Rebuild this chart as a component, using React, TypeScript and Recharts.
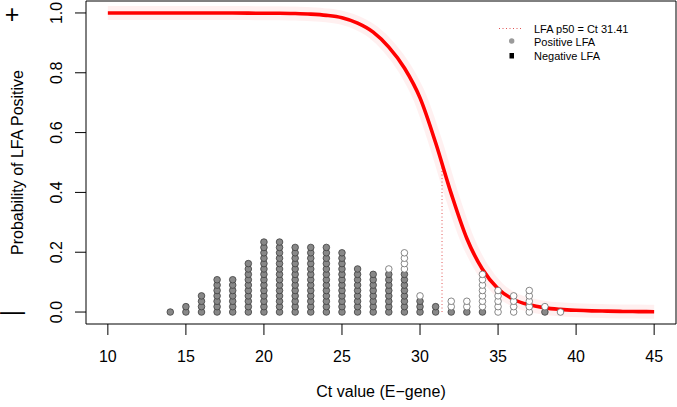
import {
  ComposedChart,
  Line,
  Scatter,
  XAxis,
  YAxis,
  ReferenceArea,
  ReferenceLine,
} from "recharts";

// Ct value of each dot column and how many results were positive / negative there
const ctValues = [14, 15, 16, 17, 18, 19, 20, 21, 22, 23, 24, 25, 26, 27, 28, 29, 30, 31, 32, 33, 34, 35, 36, 37, 38, 39];
const positiveCounts = [1, 2, 4, 7, 7, 10, 14, 14, 13, 13, 13, 12, 9, 8, 8, 8, 3, 2, 1, 1, 1, 0, 0, 0, 1, 0];
const negativeCounts = [0, 0, 0, 0, 0, 0, 0, 0, 0, 0, 0, 0, 0, 0, 1, 4, 1, 0, 2, 2, 7, 5, 4, 5, 1, 1];
const stackStep = 0.018;

// fitted probability curve
const curveCt = [10, 12, 14, 16, 18, 20, 21, 22, 23, 24, 25, 26, 27, 28, 29, 30, 31, 32, 33, 34, 35, 36, 37, 38, 39, 40, 41, 42, 43, 44, 45];
const curveP = [1.0, 1.0, 1.0, 1.0, 1.0, 0.999, 0.999, 0.998, 0.996, 0.992, 0.984, 0.966, 0.936, 0.886, 0.816, 0.716, 0.566, 0.396, 0.246, 0.143, 0.078, 0.042, 0.024, 0.014, 0.009, 0.006, 0.004, 0.003, 0.002, 0.0015, 0.001];

const p50 = 31.41;
const xTicks = [10, 15, 20, 25, 30, 35, 40, 45];
const yTicks = [0, 0.2, 0.4, 0.6, 0.8, 1.0];

const FONT = '"Liberation Sans", Arial, Helvetica, sans-serif';

const positiveDots: { x: number; y: number }[] = [];
const negativeDots: { x: number; y: number }[] = [];
ctValues.forEach((ct, i) => {
  for (let k = 0; k < positiveCounts[i]; k++) positiveDots.push({ x: ct, y: k * stackStep });
  for (let k = 0; k < negativeCounts[i]; k++)
    negativeDots.push({ x: ct, y: (positiveCounts[i] + k) * stackStep });
});

const curveData = curveCt.map((ct, i) => ({ x: ct, y: curveP[i] }));

function XTick(props: any) {
  const { x, y, payload } = props;
  return (
    <text x={x} y={y + 27} textAnchor="middle" fontSize={16} fontFamily={FONT} fill="#000">
      {payload.value}
    </text>
  );
}

function YTick(props: any) {
  const { x, y, payload } = props;
  const tx = x - 13;
  return (
    <text
      x={tx}
      y={y}
      transform={`rotate(-90, ${tx}, ${y})`}
      textAnchor="middle"
      fontSize={16}
      fontFamily={FONT}
      fill="#000"
    >
      {payload.value.toFixed(1)}
    </text>
  );
}

const filledDot = (props: any) => (
  <circle cx={props.cx} cy={props.cy} r={3.3} fill="#888888" stroke="#3f3f3f" strokeWidth={0.8} />
);

const openDot = (props: any) => (
  <circle cx={props.cx} cy={props.cy} r={3.3} fill="#ffffff" stroke="#6a6a6a" strokeWidth={0.8} />
);

export default function App() {
  return (
    <div style={{ position: "absolute", left: 0, top: 0, width: 677, height: 407, background: "#fff" }}>
      <ComposedChart width={677} height={407} margin={{ top: 1, right: 1, bottom: 0, left: 0 }}>
        <XAxis
          type="number"
          dataKey="x"
          domain={[8.6, 46.4]}
          ticks={xTicks}
          interval={0}
          allowDataOverflow
          axisLine={false}
          tickLine={{ stroke: "#000" }}
          tickSize={11}
          tickMargin={0}
          height={83}
          tick={XTick}
        />
        <YAxis
          type="number"
          dataKey="y"
          domain={[-0.04, 1.04]}
          ticks={yTicks}
          interval={0}
          allowDataOverflow
          axisLine={false}
          tickLine={{ stroke: "#000" }}
          tickSize={11}
          tickMargin={0}
          width={86}
          tick={YTick}
        />
        <ReferenceArea
          x1={8.6}
          x2={46.4}
          y1={-0.04}
          y2={1.04}
          fill="none"
          fillOpacity={0}
          stroke="#000"
          strokeWidth={1}
          ifOverflow="visible"
        />
        <Scatter data={positiveDots} dataKey="y" shape={filledDot} isAnimationActive={false} />
        <Scatter data={negativeDots} dataKey="y" shape={openDot} isAnimationActive={false} />
        <ReferenceLine
          segment={[
            { x: p50, y: 0 },
            { x: p50, y: 0.5 },
          ]}
          stroke="#e05555"
          strokeWidth={1}
          strokeDasharray="1 2.5"
          ifOverflow="visible"
        />
        <Line
          data={curveData}
          dataKey="y"
          type="monotone"
          stroke="#ff0000"
          strokeOpacity={0.06}
          strokeWidth={14}
          dot={false}
          activeDot={false}
          isAnimationActive={false}
        />
        <Line
          data={curveData}
          dataKey="y"
          type="monotone"
          stroke="#ff0000"
          strokeWidth={3.6}
          dot={false}
          activeDot={false}
          isAnimationActive={false}
        />
      </ComposedChart>

      <svg
        width={677}
        height={407}
        style={{ position: "absolute", left: 0, top: 0, pointerEvents: "none" }}
        fontFamily={FONT}
      >
        <text x={12} y={23} textAnchor="middle" fontSize={25} fill="#000">
          +
        </text>
        <text x={12.5} y={320} textAnchor="middle" fontSize={25} fill="#000">
          —
        </text>
        <text
          x={23}
          y={162.5}
          transform="rotate(-90, 23, 162.5)"
          textAnchor="middle"
          fontSize={16}
          fill="#000"
        >
          Probability of LFA Positive
        </text>
        <text x={381} y={397} textAnchor="middle" fontSize={16} fill="#000">
          Ct value (E−gene)
        </text>

        {/* legend */}
        <line x1={499} y1={28.5} x2={523} y2={28.5} stroke="#e05555" strokeWidth={1} strokeDasharray="1 2.5" />
        <text x={534} y={32.5} fontSize={11} fill="#000">
          LFA p50 = Ct 31.41
        </text>
        <circle cx={511.7} cy={41} r={2.7} fill="#9a9a9a" />
        <text x={534} y={45.5} fontSize={11} fill="#000">
          Positive LFA
        </text>
        <rect x={509.5} y={53} width={4.5} height={5.5} fill="#000" />
        <text x={534} y={60} fontSize={11} fill="#000">
          Negative LFA
        </text>
      </svg>
    </div>
  );
}
